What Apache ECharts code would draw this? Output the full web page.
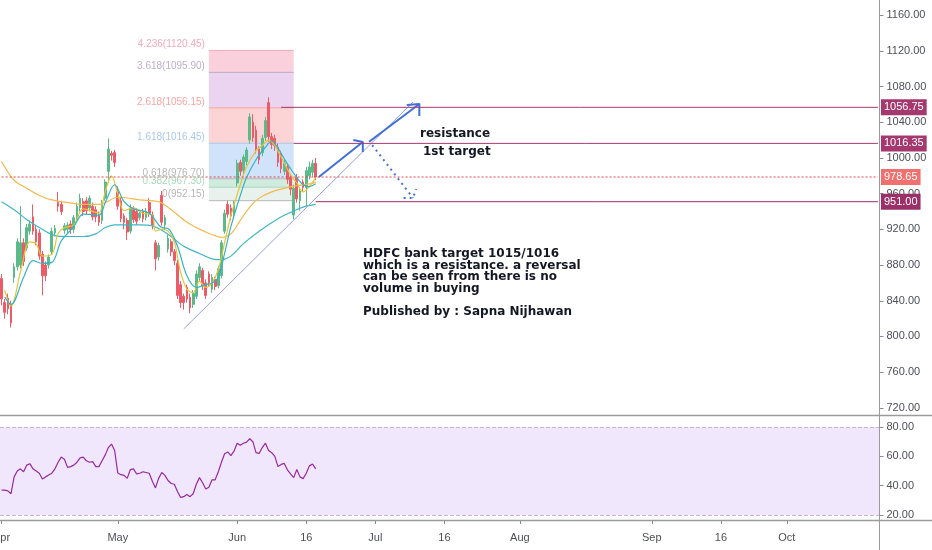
<!DOCTYPE html>
<html>
<head>
<meta charset="utf-8">
<title>HDFC Bank</title>
<script src="https://cdn.jsdelivr.net/npm/echarts@6.0.0/dist/echarts.min.js"></script>
<style>
html, body { margin: 0; padding: 0; background: #fff; }
#chart { width: 932px; height: 550px; }
</style>
</head>
<body>
<div id="chart"></div>
<script>
// bar slots (4h candles, 2 per session), history + empty future space
const SLOT_COUNT = 280
const slots = []
for (let i = 0; i < SLOT_COUNT; i++) slots.push(String(i))

// date labels on the time axis
const tickSlots = [0, 37, 75, 97, 119, 141, 165, 207, 229, 250]
const tickLabels = ['Apr', 'May', 'Jun', '16', 'Jul', '16', 'Aug', 'Sep', '16', 'Oct']

// price / rsi axis labels
const priceTicks = [720, 760, 800, 840, 880, 920, 960, 1000, 1040, 1080, 1120, 1160]
const rsiTicks = [20, 40, 60, 80]

// candles: [open, close, low, high]
const candles = [
  [865, 842, 835, 870], [838, 827, 820, 842], [843, 831, 825, 848], [836, 815, 810, 840],
  [866, 878, 860, 882], [878, 906, 874, 910], [880, 905, 876, 946], [905, 884, 879, 910],
  [899, 922, 896, 926], [918, 926, 914, 930], [934, 918, 914, 948], [920, 906, 902, 924],
  [916, 890, 886, 920], [892, 868, 846, 896], [880, 868, 862, 884], [880, 889, 876, 892],
  [895, 918, 892, 922], [916, 921, 912, 925], [950, 946, 940, 962], [948, 940, 936, 952],
  [919, 924, 915, 927], [920, 925, 916, 928], [926, 920, 915, 930], [920, 933, 916, 936],
  [932, 946, 929, 950], [944, 955, 940, 960], [951, 940, 935, 955], [952, 941, 936, 956],
  [944, 955, 940, 958], [946, 934, 930, 950], [942, 934, 928, 946], [936, 928, 924, 940],
  [930, 950, 926, 953], [955, 973, 952, 976], [985, 1010, 972, 1022], [1005, 1003, 997, 1008],
  [1006, 995, 990, 1009], [962, 946, 942, 968], [952, 932, 928, 956], [935, 928, 920, 938],
  [930, 917, 908, 933], [918, 944, 915, 948], [942, 931, 927, 946], [940, 929, 925, 944],
  [933, 938, 930, 942], [940, 932, 928, 943], [933, 940, 930, 944], [950, 938, 934, 955],
  [936, 925, 920, 940], [905, 887, 874, 908], [889, 902, 885, 905], [958, 928, 924, 963],
  [925, 933, 920, 936], [898, 910, 894, 914], [906, 895, 890, 909], [895, 885, 880, 898],
  [882, 846, 842, 886], [858, 838, 832, 862], [845, 838, 830, 848], [855, 842, 838, 858],
  [844, 832, 826, 848], [836, 848, 832, 852], [845, 870, 842, 874], [866, 878, 862, 882],
  [874, 857, 852, 877], [860, 846, 842, 864], [870, 860, 856, 873], [853, 866, 849, 870],
  [864, 856, 852, 867], [857, 876, 854, 879], [868, 905, 865, 908], [918, 938, 915, 942],
  [948, 937, 933, 952], [944, 935, 930, 948], [936, 948, 932, 952], [972, 994, 968, 998],
  [995, 985, 980, 998], [986, 1001, 982, 1004], [996, 1009, 992, 1012], [1020, 1046, 1016, 1050],
  [1040, 1023, 1018, 1049], [1031, 1010, 1005, 1036], [1010, 998, 993, 1013], [1006, 1022, 1002, 1026],
  [1023, 1042, 1019, 1046], [1062, 1024, 1018, 1068], [1024, 1015, 1010, 1028], [1022, 1014, 1008, 1026],
  [1012, 995, 990, 1016], [1005, 988, 983, 1008], [985, 994, 981, 998], [990, 976, 971, 994],
  [978, 965, 958, 982], [936, 966, 931, 970], [978, 954, 950, 982], [952, 963, 941, 966],
  [973, 967, 962, 976], [967, 986, 946, 990], [980, 990, 976, 996], [984, 994, 978, 998],
  [994, 978.65, 975, 1000]
]

// moving averages: [slot, value]
const maFastYellow = [[1, 852], [3, 834], [6, 872], [9, 906], [11, 904], [13, 890], [16, 892], [18, 915],
  [20, 922], [23, 925], [26, 943], [30, 939], [31, 938], [33, 962], [35, 980], [37, 960], [39, 941],
  [42, 944], [45, 938], [48, 936], [49, 918], [51, 920], [53, 918], [55, 906], [57, 872], [59, 853],
  [61, 849], [63, 862], [65, 855], [67, 860], [69, 875], [71, 905], [73, 935], [76, 970], [78, 990],
  [81, 1008], [83, 1014], [85, 1020], [87, 1014], [89, 1001], [92, 981], [94, 972], [96, 962],
  [98, 968], [100, 978]]
const maFastTeal = [[1, 844], [3, 836], [7, 866], [10, 885], [13, 882], [16, 883], [19, 907], [23, 923],
  [26, 937], [31, 936], [33, 950], [36, 970], [39, 951], [42, 943], [47, 938], [51, 922], [53, 921],
  [56, 901], [59, 868], [62, 855], [65, 858], [67, 860], [69, 866], [71, 893], [73, 923], [76, 958],
  [78, 978], [81, 998], [84, 1012], [86, 1019], [88, 1011], [90, 999], [92, 988], [94, 978],
  [96, 970], [98, 968], [100, 971]]
const maSlowOrange = [[0, 996], [4, 975], [8, 966], [12, 958], [16, 953], [21, 950], [26, 948], [31, 948],
  [33, 950], [37, 956], [44, 953], [50, 951], [54, 942], [59, 928], [65, 917], [68, 913], [70, 911],
  [73, 915], [76, 930], [79, 945], [82, 955], [86, 962], [90, 966], [94, 969], [98, 971], [100, 973]]
const maSlowTeal = [[0, 951], [4, 942], [8, 931], [12, 922], [17, 913], [21, 912], [26, 912], [30, 915],
  [33, 922], [36, 925], [44, 925], [48, 924], [51, 919], [54, 912], [58, 901], [63, 893], [67, 887],
  [70, 886], [73, 890], [77, 904], [82, 918], [88, 932], [92, 939], [96, 945], [100, 948]]

// RSI
const rsi = [37, 37, 36.5, 34.5, 46, 50, 51.5, 49.5, 54, 55, 51.5, 50, 48.5, 44.5, 46, 47.3, 48.5, 51.5,
  56, 59.5, 58, 52.5, 53, 54, 56, 59, 59.5, 57, 56, 56.4, 53, 53, 57, 61, 66, 68.4, 64, 48.6, 47.5, 47,
  45, 51, 51.5, 48, 48.5, 49.5, 49, 48.5, 43, 38.5, 45, 49, 47, 43.5, 41.5, 41, 36, 32, 32.5, 34, 32.5,
  34.5, 41, 45.5, 42, 37.7, 39, 44, 44, 49.5, 56, 61.8, 63, 60.5, 63.5, 69, 67.5, 68.9, 69.7, 72, 70,
  62.5, 62, 66, 69, 64, 62.5, 60, 53, 54.5, 55.2, 50.8, 48, 45.5, 51, 46, 44.8, 48.5, 53.5, 54.8, 51.5]

// fibonacci extension drawn on the chart
const fibStart = 66
const fibEnd = 93
const fibNames = ['0', '0.382', '0.618', '1.618', '2.618', '3.618', '4.236']
const fibPrices = [952.15, 967.30, 976.70, 1016.45, 1056.15, 1095.90, 1120.45]
const fibFill = ['rgba(190,215,200,0.35)', 'rgba(120,200,160,0.35)', 'rgba(120,175,240,0.35)',
  'rgba(245,120,125,0.32)', 'rgba(190,120,205,0.32)', 'rgba(240,110,150,0.32)']
const fibText = ['#b7b7b7', '#a8d8bd', '#b7b7b7', '#a9c8ee', '#f5a6a6', '#bcaec9', '#f4aabb']

// horizontal levels: [startSlot, price, colour]
const levels = [[89, 1056.75, '#a5396f'], [93, 1016.35, '#a5396f'], [100, 951.00, '#9b2f68']]
const lastPrice = 978.65

// hand drawn annotations [slot, price]
const trendLine = [[57.5, 808.5], [131.2, 1062.7]]
const arrowUp1 = [[100.8, 978.7], [115.1, 1017.9]]
const arrowUp1Head = [[111.6, 1020.1], [115.1, 1017.9], [114.8, 1006.7]]
const arrowUp2 = [[117.4, 1018.2], [132.7, 1060.4]]
const arrowUp2Head = [[128.5, 1059.3], [132.7, 1060.4], [132.7, 1046.9]]
const arrowDown = [[118, 1014.5], [130.8, 955.2]]
const arrowDownHead = [[127.9, 955.2], [130.8, 955.2], [132, 965.2]]

const myChart = echarts.init(document.getElementById('chart'))

const axisFont = 'Liberation Sans, Arial, sans-serif'
const tickShown = (i) => tickSlots.indexOf(i) >= 0

function lineSeries(data, color, width, type, z) {
  return {
    type: 'line', xAxisIndex: 0, yAxisIndex: 0, data: data, symbol: 'none', silent: true, z: z || 6,
    lineStyle: { color: color, width: width, type: type || 'solid' }
  }
}

function maSeries(data, color) {
  return {
    type: 'line', xAxisIndex: 0, yAxisIndex: 0, data: data, symbol: 'none', smooth: 0.35,
    silent: true, z: 4, lineStyle: { color: color, width: 1.2 }
  }
}

// horizontal level with its price tag on the axis
function levelSeries(start, price, color, lineType, labelBg) {
  const s = lineSeries([[start, price], [SLOT_COUNT - 1, price]], color, 1, lineType, 7)
  s.endLabel = {
    show: true, distance: 3, formatter: price.toFixed(2),
    backgroundColor: labelBg, color: '#fff', padding: [3, 3, 2, 3],
    fontSize: 11, fontFamily: axisFont
  }
  return s
}

// fib bands and level lines
const fibAreas = []
for (let k = 0; k < fibPrices.length - 1; k++) {
  fibAreas.push([
    { coord: [fibStart, fibPrices[k]], itemStyle: { color: fibFill[k] } },
    { coord: [fibEnd, fibPrices[k + 1]] }
  ])
}
const fibLineSeries = fibPrices.map((p, k) => lineSeries([[fibStart, p], [fibEnd, p]], fibText[k], 1, 'solid', 2))

const baseGraphic = [
  { type: 'line', shape: { x1: 0, y1: 415.5, x2: 932, y2: 415.5 }, style: { stroke: '#9a9a9a', lineWidth: 1.5 }, z: 100 },
  { type: 'line', shape: { x1: 0, y1: 520.5, x2: 932, y2: 520.5 }, style: { stroke: '#9a9a9a', lineWidth: 1.5 }, z: 100 },
  { type: 'line', shape: { x1: 879.5, y1: 0, x2: 879.5, y2: 550 }, style: { stroke: '#9a9a9a', lineWidth: 1 }, z: 100 },
  {
    type: 'text', x: 420, y: 128, z: 100,
    style: { text: 'resistance', fill: '#131722', font: 'bold 12px DejaVu Sans' }
  },
  {
    type: 'text', x: 423, y: 146, z: 100,
    style: { text: '1st target', fill: '#131722', font: 'bold 12px DejaVu Sans' }
  },
  {
    type: 'text', x: 363, y: 248, z: 100,
    style: {
      text: 'HDFC bank target 1015/1016\nwhich is a resistance. a reversal\ncan be seen from there is no\nvolume in buying\n\nPublished by : Sapna Nijhawan',
      fill: '#131722', font: 'bold 12px DejaVu Sans', lineHeight: 11.7
    }
  }
]

const opt = {
  backgroundColor: '#ffffff',
  animation: false,
  grid: [
    { left: 0, right: 52.5, top: 0, height: 415, containLabel: false, outerBoundsMode: 'none' },
    { left: 0, right: 52.5, top: 415, height: 105, containLabel: false, outerBoundsMode: 'none' }
  ],
  xAxis: [
    {
      type: 'category', gridIndex: 0, data: slots, boundaryGap: true,
      axisLine: { show: false }, axisTick: { show: false }, axisLabel: { show: false },
      splitLine: { show: false }
    },
    {
      type: 'category', gridIndex: 1, data: slots, boundaryGap: true,
      axisLine: { show: false },
      axisTick: { show: true, interval: tickShown, alignWithLabel: true, length: 4, lineStyle: { color: '#8a8a8a' } },
      axisLabel: {
        interval: tickShown, color: '#4c4f57', fontSize: 11, fontFamily: axisFont, margin: 12,
        formatter: (v) => tickLabels[tickSlots.indexOf(Number(v))] || ''
      },
      splitLine: { show: false }
    }
  ],
  yAxis: [
    {
      type: 'value', gridIndex: 0, position: 'right', min: 712, max: 1177,
      splitLine: { show: false }, axisLine: { show: false },
      axisTick: { show: true, length: 4, customValues: priceTicks, lineStyle: { color: '#8a8a8a' } },
      axisLabel: { customValues: priceTicks, formatter: (v) => v.toFixed(2), color: '#4c4f57', fontSize: 11, fontFamily: axisFont, margin: 7 }
    },
    {
      type: 'value', gridIndex: 1, position: 'right', min: 16.6, max: 88.2,
      splitLine: { show: false }, axisLine: { show: false },
      axisTick: { show: true, length: 4, customValues: rsiTicks, lineStyle: { color: '#8a8a8a' } },
      axisLabel: { customValues: rsiTicks, formatter: (v) => v.toFixed(2), color: '#4c4f57', fontSize: 11, fontFamily: axisFont, margin: 7 }
    }
  ],
  series: [
    // fib extension boxes
    {
      type: 'line', xAxisIndex: 0, yAxisIndex: 0, data: [], silent: true, z: 1,
      markArea: { silent: true, data: fibAreas }
    },
    ...fibLineSeries,
    {
      type: 'candlestick', xAxisIndex: 0, yAxisIndex: 0, data: candles, barWidth: 2.2, silent: true, z: 3,
      itemStyle: { color: '#5cb98a', color0: '#ec5c68', borderColor: '#5cb98a', borderColor0: '#ec5c68', borderWidth: 1 }
    },
    maSeries(maSlowOrange, '#f3b94a'),
    maSeries(maSlowTeal, '#3db7c6'),
    maSeries(maFastYellow, '#e2c53a'),
    maSeries(maFastTeal, '#35b3c4'),
    // price levels
    ...levels.map(l => levelSeries(l[0], l[1], l[2], 'solid', l[2])),
    levelSeries(0, lastPrice, '#e2434b', [2, 2], '#f07070'),
    // drawings
    lineSeries(trendLine, '#9a9de6', 1),
    lineSeries(arrowUp1, '#3f6fd8', 2),
    lineSeries(arrowUp1Head, '#3f6fd8', 2),
    lineSeries(arrowUp2, '#3f6fd8', 2),
    lineSeries(arrowUp2Head, '#3f6fd8', 2),
    lineSeries(arrowDown, '#3f6fd8', 2, [2, 4]),
    lineSeries(arrowDownHead, '#3f6fd8', 2, [2, 4]),
    // RSI pane
    {
      type: 'line', xAxisIndex: 1, yAxisIndex: 1, data: rsi, symbol: 'none', silent: true, z: 4,
      lineStyle: { color: '#962a9e', width: 1.2 },
      markArea: { silent: true, itemStyle: { color: '#f1e7fd' }, data: [[{ yAxis: 80 }, { yAxis: 20 }]] },
      markLine: {
        silent: true, symbol: ['none', 'none'], label: { show: false },
        lineStyle: { color: '#bdb6cc', type: 'dashed', width: 1 },
        data: [{ yAxis: 80 }, { yAxis: 20 }]
      }
    }
  ],
  graphic: baseGraphic
}

myChart.setOption(opt)

// fib labels placed through the chart's own axes
const fibLabels = fibPrices.map((p, k) => {
  const pt = myChart.convertToPixel({ xAxisIndex: 0, yAxisIndex: 0 }, [fibStart, p])
  return {
    type: 'text', x: pt[0] - 4, y: pt[1] - 1, z: 90,
    style: {
      text: fibNames[k] + '(' + p.toFixed(2) + ')', fill: fibText[k], font: '10px Liberation Sans',
      align: 'right', verticalAlign: 'bottom', textAlign: 'right', textVerticalAlign: 'bottom'
    }
  }
})
myChart.setOption({ graphic: baseGraphic.concat(fibLabels) })
</script>
</body>
</html>
